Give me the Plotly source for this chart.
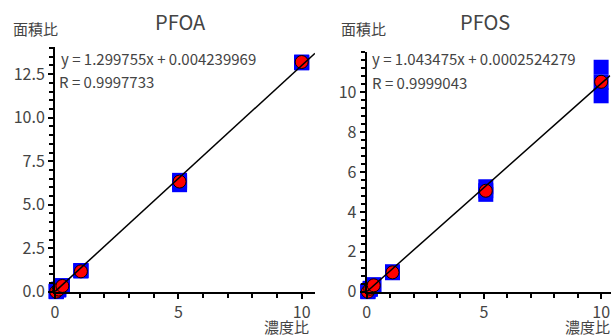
import plotly.graph_objects as go

# ---------------- data ----------------
pfoa_conc = [0.05, 0.15, 0.3, 1.05, 5.05, 10.0]
pfoa_mean = [0.0, 0.12, 0.33, 1.17, 6.33, 13.2]
pfoa_rep_a = [0.02, 0.15, 0.3, 1.22, 6.40, 13.17]
pfoa_rep_b = [0.0, 0.1, 0.33, 1.20, 6.28, 13.15]
pfoa_rep_c = [0.03, 0.12, 0.35, 1.20, 6.15, 13.20]
pfoa_slope, pfoa_icpt = 1.299755, 0.004239969
pfoa_eq = "y = 1.299755x + 0.004239969"
pfoa_r = "R = 0.9997733"

pfos_conc = [0.05, 0.15, 0.3, 1.1, 5.08, 10.0]
pfos_mean = [0.0, 0.15, 0.32, 0.97, 5.06, 10.52]
pfos_rep_a = [0.02, 0.17, 0.3, 1.0, 5.26, 11.25]
pfos_rep_b = [0.0, 0.12, 0.33, 0.97, 5.06, 10.5]
pfos_rep_c = [0.03, 0.14, 0.35, 0.95, 4.88, 9.82]
pfos_slope, pfos_icpt = 1.043475, 0.0002524279
pfos_eq = "y = 1.043475x + 0.0002524279"
pfos_r = "R = 0.9999043"

titles = ["PFOA", "PFOS"]
x_title = "濃度比"
y_title = "面積比"

FONT = "Noto Sans CJK JP"
GRAY = "#444444"
W, H = 611, 336

fig = go.Figure()


def add_panel(k, conc, mean, reps, slope, icpt, xmax):
    xa = "x" if k == 1 else "x2"
    ya = "y" if k == 1 else "y2"
    for rep in reps:
        fig.add_trace(go.Scatter(x=conc, y=rep, mode="markers", xaxis=xa, yaxis=ya,
                                 marker=dict(symbol="square", size=15, color="#0000ff",
                                             line=dict(width=0)),
                                 cliponaxis=False, showlegend=False))
    fig.add_trace(go.Scatter(x=conc, y=mean, mode="markers", xaxis=xa, yaxis=ya,
                             marker=dict(symbol="circle", size=13, color="#ff0000",
                                         line=dict(width=1, color="#000000")),
                             cliponaxis=False, showlegend=False))
    fx = [0, xmax]
    fy = [icpt + slope * v for v in fx]
    fig.add_trace(go.Scatter(x=fx, y=fy, mode="lines", xaxis=xa, yaxis=ya,
                             line=dict(color="#000000", width=1.5),
                             cliponaxis=False, showlegend=False))


px = lambda v: v / W
py = lambda v: 1 - v / H

add_panel(1, pfoa_conc, pfoa_mean, [pfoa_rep_a, pfoa_rep_b, pfoa_rep_c],
          pfoa_slope, pfoa_icpt, 10.54)
add_panel(2, pfos_conc, pfos_mean, [pfos_rep_a, pfos_rep_b, pfos_rep_c],
          pfos_slope, pfos_icpt, 10.38)

axis_common = dict(showline=True, linecolor="#000000", linewidth=2, showgrid=False,
                   zeroline=False, ticks="outside", tickcolor="#000000", tickwidth=2,
                   ticklen=5, automargin=False,
                   tickfont=dict(family=FONT, size=16, color=GRAY))

fig.update_layout(
    width=W, height=H, margin=dict(l=0, r=0, t=0, b=0, autoexpand=False),
    paper_bgcolor="white", plot_bgcolor="white",
    xaxis=dict(domain=[px(55), px(315)], range=[0, 10.54], anchor="y",
               tickvals=[0, 5, 10], ticktext=["0", "5", "10"],
               minor=dict(dtick=1, tick0=0, ticks="outside", ticklen=4, tickwidth=2,
                          tickcolor="#000000"),
               **axis_common),
    yaxis=dict(domain=[py(291.7), py(46.7)], range=[0, 14.08], anchor="x",
               tickvals=[0, 2.5, 5, 7.5, 10, 12.5],
               ticktext=["0.0", "2.5", "5.0", "7.5", "10.0", "12.5"],
               minor=dict(dtick=0.5, tick0=0, ticks="outside", ticklen=4, tickwidth=2,
                          tickcolor="#000000"),
               **axis_common),
    xaxis2=dict(domain=[px(366.7), px(610.5)], range=[0, 10.4], anchor="y2",
                tickvals=[0, 5, 10], ticktext=["0", "5", "10"],
                minor=dict(dtick=1, tick0=0, ticks="outside", ticklen=4, tickwidth=2,
                           tickcolor="#000000"),
                **axis_common),
    yaxis2=dict(domain=[py(291.7), py(51.7)], range=[0, 12.03], anchor="x2",
                tickvals=[0, 2, 4, 6, 8, 10],
                ticktext=["0", "2", "4", "6", "8", "10"],
                minor=dict(dtick=0.4, tick0=0, ticks="outside", ticklen=4, tickwidth=2,
                           tickcolor="#000000"),
                **axis_common),
)

ann = []


def txt(x, y, s, size, xanchor="center", yanchor="middle"):
    ann.append(dict(x=px(x), y=py(y), xref="paper", yref="paper", text=s,
                    showarrow=False, xanchor=xanchor, yanchor=yanchor,
                    font=dict(family=FONT, size=size, color=GRAY)))


txt(180, 22, titles[0], 20)
txt(485, 22, titles[1], 20)
txt(35, 28, y_title, 15)
txt(363, 28, y_title, 15)
txt(286, 326, x_title, 15)
txt(587, 326, x_title, 15)
txt(59, 58, pfoa_eq, 15, xanchor="left")
txt(57, 81, pfoa_r, 15, xanchor="left")
txt(370, 58, pfos_eq, 15, xanchor="left")
txt(370, 82, pfos_r, 15, xanchor="left")
fig.update_layout(annotations=ann)

fig.write_html("out.html")
